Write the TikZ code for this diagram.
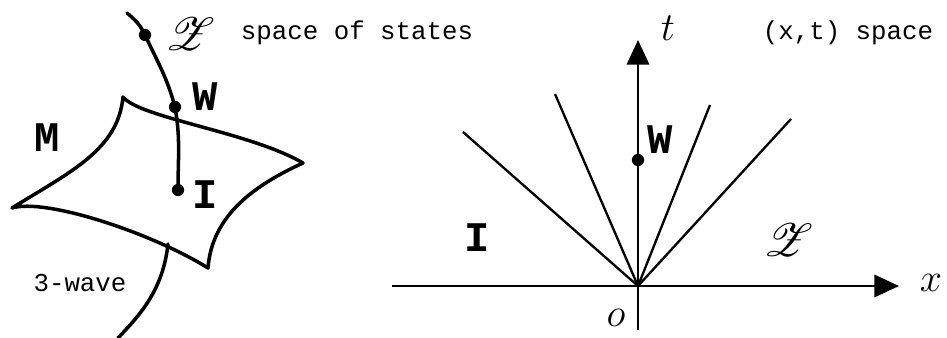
\documentclass[tikz,border=0pt]{standalone}
\usepackage{fix-cm}
\usepackage{fontspec}
\setmonofont{Liberation Mono}
\usepackage{mathrsfs}
\usetikzlibrary{arrows.meta}

\begin{document}
\begin{tikzpicture}[
  x=0.03cm, y=-0.03cm,
  every node/.style={font=\fontsize{22}{24}\selectfont\ttfamily},
  dot/.style={circle, fill, inner sep=0pt, minimum size=10.5pt},
  curve/.style={line width=3pt, line cap=round, line join=round},
  ray/.style={line width=2pt},
  axis/.style={line width=2.2pt, -{Triangle[length=21pt, width=19pt]}},
  hand/.style={font=\fontsize{36}{38}\selectfont\ttfamily\bfseries},
  script/.style={font=\fontsize{34}{36}\selectfont}
]
\useasboundingbox (0,0) rectangle (947,338);

%% Space of states
\coordinate (top) at (127,13);
\node[dot] (zs) at (145,35) {};
\node[dot] (ws) at (175,107) {};
\node[dot] (is) at (178,190) {};
\draw[curve] (top) to[out=-40, in=115] (zs.center)
  to[out=-65, in=105] (ws.center) to[out=-80, in=90] (is.center);

% the manifold M
\coordinate (mt) at (123,97);
\coordinate (mr) at (303,163);
\coordinate (mb) at (208,268);
\coordinate (ml) at (12,208);
\draw[curve] (mt) .. controls (140,118) and (250,132) .. (mr)
  .. controls (255,185) and (212,215) .. (mb)
  .. controls (150,232) and (45,198) .. (ml)
  .. controls (70,172) and (118,150) .. (mt) -- cycle;

% 3-wave curve
\coordinate (wa) at (168,244);
\coordinate (wb) at (118,338);
\draw[curve] (wa) .. controls (163,290) and (140,315) .. (wb);

\node[script] (zl) at (190,34) {\scalebox{1.6}{$\mathscr{Z}$}};
\node[hand] (wl) at (205,97) {W};
\node[hand] (il) at (205,195) {I};
\node[hand] (ml) at (47,138) {M};
\node (wave) at (80,283) {3-wave};
\node (states) at (357,33) {space of states};

%% (x,t) space
\coordinate (o) at (638,286);
\coordinate (xs) at (392,286);
\coordinate (xe) at (899,286);
\coordinate (ts) at (638,330);
\coordinate (te) at (638,40);
\draw[axis] (xs) -- (xe);
\draw[axis] (ts) -- (te);

\coordinate (r1) at (463,132);
\coordinate (r2) at (555,94);
\coordinate (r3) at (710,105);
\coordinate (r4) at (791,119);
\foreach \r in {r1,r2,r3,r4}
  \draw[ray] (o) -- (\r);

\node[dot] (wx) at (638,160) {};
\node[hand] (wxl) at (660,140) {W};
\node[hand] (ixl) at (477,238) {I};
\node[script] (zxl) at (788,240) {\scalebox{1.6}{$\mathscr{Z}$}};
\node[script] (tl) at (668,28) {$t$};
\node[script] (xl) at (931,283) {$x$};
\node[script] (ol) at (616,318) {$o$};
\node (xt) at (848,33) {(x,t) space};

\end{tikzpicture}
\end{document}
